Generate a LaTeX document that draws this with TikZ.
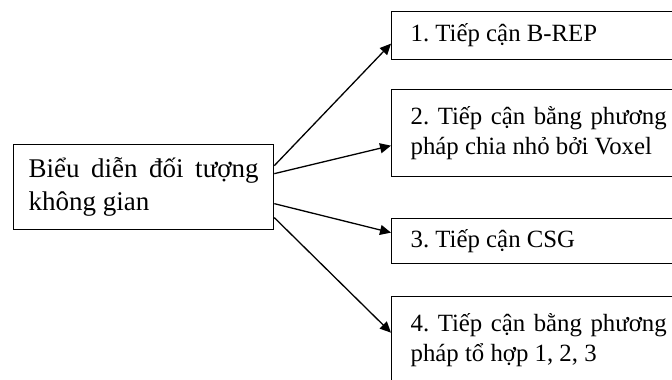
\documentclass[tikz,border=0pt]{standalone}
\usepackage{fontspec}
\setmainfont{Liberation Serif}
\frenchspacing
\usetikzlibrary{arrows.meta}

\begin{document}
\begin{tikzpicture}[x=0.5pt, y=-0.5pt, line width=0.65pt,
  >={Triangle[length=5.5pt, width=5pt]}]
\useasboundingbox (0,0) rectangle (672,379);
\node[draw, anchor = north west, inner xsep=7.5pt, text width=115pt, align=justify, minimum height=42.5pt,
  font=\fontsize{13.5}{16.5}\selectfont] (BD) at (13,144) {Biểu diễn đối tượng\linebreak không gian};
  \node[draw, anchor = north west, inner xsep=9.5pt, text width=128pt, align=justify, minimum height=24pt,
    font=\fontsize{12.4}{14.8}\selectfont] (TC1) at (391,11) {1. Tiếp cận B-REP};
  \node[draw, anchor = north west, inner xsep=9.5pt, text width=128pt, align=justify, minimum height=43.5pt,
    font=\fontsize{12.4}{14.8}\selectfont] (TC2) at (391,89) {2. Tiếp cận bằng phương\linebreak pháp chia nhỏ bởi Voxel};
  \node[draw, anchor = north west, inner xsep=9.5pt, text width=128pt, align=justify, minimum height=22.5pt,
    font=\fontsize{12.4}{14.8}\selectfont] (TC3) at (391,218) {3. Tiếp cận CSG};
  \node[draw, anchor = north west, inner xsep=9.5pt, text width=128pt, align=justify, minimum height=43.5pt,
    font=\fontsize{12.4}{14.8}\selectfont] (TC4) at (391,296) {4. Tiếp cận bằng phương\linebreak pháp tổ hợp 1, 2, 3};
\draw[->] ([yshift=10.75pt]BD.east) -- ([yshift=-4pt]TC1.west);
\draw[->] ([yshift=6.75pt]BD.east) -- ([yshift=-6.25pt]TC2.west);
\draw[->] ([yshift=-8.25pt]BD.east) -- ([yshift=4.25pt]TC3.west);
\draw[->] ([yshift=-15.25pt]BD.east) -- ([yshift=3.75pt]TC4.west);
\end{tikzpicture}
\end{document}
